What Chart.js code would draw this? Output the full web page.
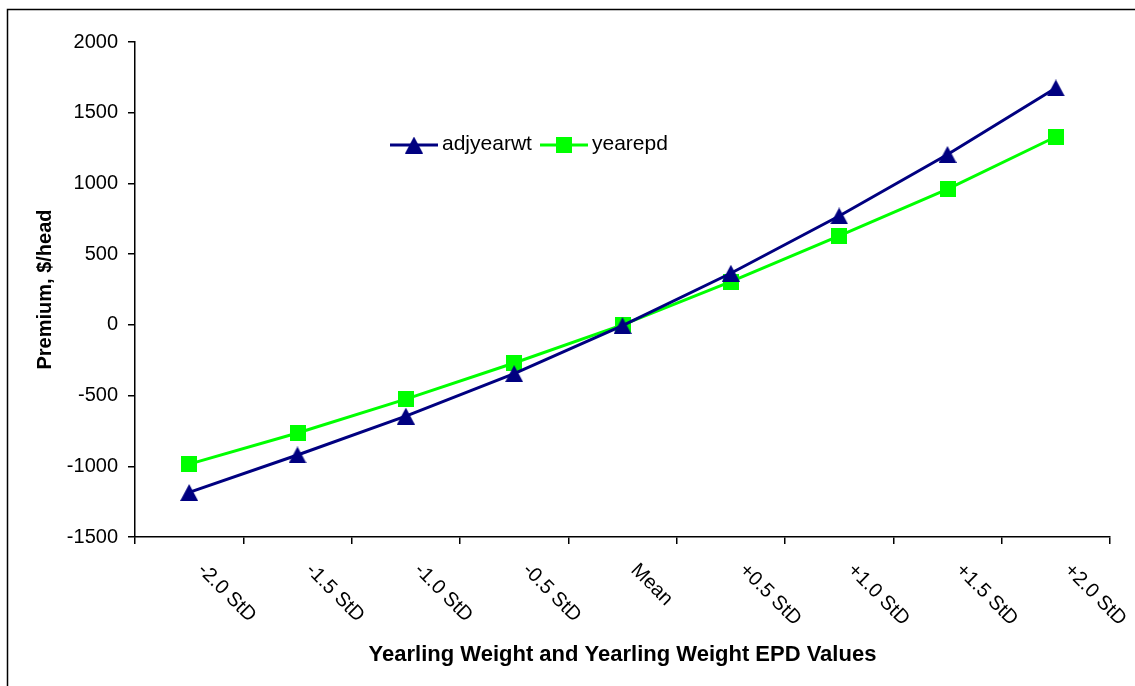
<!DOCTYPE html>
<html>
<head>
<meta charset="utf-8">
<script src="https://cdn.jsdelivr.net/npm/chart.js@4.4.1/dist/chart.umd.min.js"></script>
<style>
  html, body { margin: 0; padding: 0; background: #fff; }
  #wrap { width: 1135px; height: 686px; position: relative; }
</style>
</head>
<body>
<div id="wrap"><canvas id="c" width="1135" height="686"></canvas></div>
<script>
// Category labels along the x axis
const categories = ['-2.0 StD', '-1.5 StD', '-1.0 StD', '-0.5 StD', 'Mean', '+0.5 StD', '+1.0 StD', '+1.5 StD', '+2.0 StD'];
// Premium ($/head) by yearling weight
const adjyearwt = [-1185, -920, -645, -345, -5, 365, 770, 1205, 1675];
// Premium ($/head) by yearling weight EPD
const yearepd = [-985, -765, -525, -270, 0, 305, 630, 960, 1330];
// Value axis range
const yMin = -1500, yMax = 2000, yStep = 500;

const NAVY = '#000080';
const GREEN = '#00FF00';
const FONT = "'Liberation Sans', Arial, sans-serif";

function triangleImage(color, w, h) {
  const cv = document.createElement('canvas');
  cv.width = w; cv.height = h;
  const g = cv.getContext('2d');
  g.fillStyle = color;
  g.beginPath();
  g.moveTo(w / 2, 0);
  g.lineTo(w, h);
  g.lineTo(0, h);
  g.closePath();
  g.fill();
  return cv;
}
function squareImage(color, s) {
  const cv = document.createElement('canvas');
  cv.width = s; cv.height = s;
  const g = cv.getContext('2d');
  g.fillStyle = color;
  g.fillRect(0, 0, s, s);
  return cv;
}
const triMark = triangleImage(NAVY, 18, 17);
const sqMark = squareImage(GREEN, 16);

// Outer frame (left and top edges visible)
const framePlugin = {
  id: 'frame',
  beforeDraw(chart) {
    const ctx = chart.ctx;
    ctx.save();
    ctx.fillStyle = '#fff';
    ctx.fillRect(0, 0, chart.width, chart.height);
    ctx.strokeStyle = '#000';
    ctx.lineWidth = 1.5;
    ctx.beginPath();
    ctx.moveTo(7.5, chart.height + 5);
    ctx.lineTo(7.5, 9.5);
    ctx.lineTo(chart.width + 5, 9.5);
    ctx.stroke();
    ctx.restore();
  }
};

// Slanted category labels below the x axis
const slantLabels = {
  id: 'slantLabels',
  afterDraw(chart) {
    const xs = chart.scales.x;
    const ctx = chart.ctx;
    ctx.save();
    ctx.font = '20px ' + FONT;
    ctx.fillStyle = '#000';
    ctx.textAlign = 'left';
    ctx.textBaseline = 'middle';
    categories.forEach((lab, i) => {
      const x = xs.getPixelForTick(i);
      ctx.save();
      ctx.translate(x + 11.5, xs.top + 30);
      ctx.rotate(Math.PI / 4);
      ctx.fillText(lab, 0, 0);
      ctx.restore();
    });
    ctx.restore();
  }
};

// Legend drawn inside the plot area
const innerLegend = {
  id: 'innerLegend',
  afterDraw(chart) {
    const ctx = chart.ctx;
    const items = [
      { ds: chart.data.datasets[0], x: 390, img: triMark },
      { ds: chart.data.datasets[1], x: 540, img: sqMark }
    ];
    const y = 145;
    ctx.save();
    items.forEach(it => {
      ctx.strokeStyle = it.ds.borderColor;
      ctx.lineWidth = 3;
      ctx.beginPath();
      ctx.moveTo(it.x, y);
      ctx.lineTo(it.x + 48, y);
      ctx.stroke();
      ctx.drawImage(it.img, it.x + 24 - it.img.width / 2, y - it.img.height / 2);
      ctx.font = '21px ' + FONT;
      ctx.fillStyle = '#000';
      ctx.textAlign = 'left';
      ctx.textBaseline = 'middle';
      ctx.fillText(it.ds.label, it.x + 52, y - 1);
    });
    ctx.restore();
  }
};

new Chart(document.getElementById('c'), {
  type: 'line',
  data: {
    labels: categories,
    datasets: [
      {
        label: 'adjyearwt',
        data: adjyearwt,
        borderColor: NAVY,
        backgroundColor: NAVY,
        borderWidth: 3,
        pointStyle: triMark,
        tension: 0,
        fill: false
      },
      {
        label: 'yearepd',
        data: yearepd,
        borderColor: GREEN,
        backgroundColor: GREEN,
        borderWidth: 3,
        pointStyle: sqMark,
        tension: 0,
        fill: false
      }
    ]
  },
  options: {
    responsive: false,
    animation: false,
    events: [],
    layout: { padding: { left: 0, right: 25, top: 42, bottom: 0 } },
    plugins: {
      legend: { display: false },
      tooltip: { enabled: false }
    },
    scales: {
      x: {
        type: 'category',
        offset: true,
        afterFit(s) { s.height = 149; },
        grid: { offset: true, drawOnChartArea: false, drawTicks: true, tickLength: 7, color: '#000', lineWidth: 1.5 },
        border: { display: true, color: '#000', width: 1.5 },
        ticks: { display: false },
        title: {
          display: true,
          text: 'Yearling Weight and Yearling Weight EPD Values',
          font: { family: FONT, size: 22, weight: 'bold' },
          color: '#000',
          padding: { top: 0, bottom: 18 }
        }
      },
      y: {
        min: yMin,
        max: yMax,
        afterFit(s) { s.width = 135; },
        afterBuildTicks(s) {
          const t = [];
          for (let v = yMin; v <= yMax; v += yStep) t.push({ value: v });
          s.ticks = t;
        },
        grid: { drawOnChartArea: false, drawTicks: true, tickLength: 7, color: '#000', lineWidth: 1.5 },
        border: { display: true, color: '#000', width: 1.5 },
        ticks: {
          color: '#000',
          padding: 10,
          font: { family: FONT, size: 20 },
          callback: v => String(v)
        },
        title: {
          display: true,
          text: 'Premium, $/head',
          font: { family: FONT, size: 20, weight: 'bold' },
          color: '#000',
          padding: { top: 33, bottom: 0 }
        }
      }
    }
  },
  plugins: [framePlugin, slantLabels, innerLegend]
});
</script>
</body>
</html>
